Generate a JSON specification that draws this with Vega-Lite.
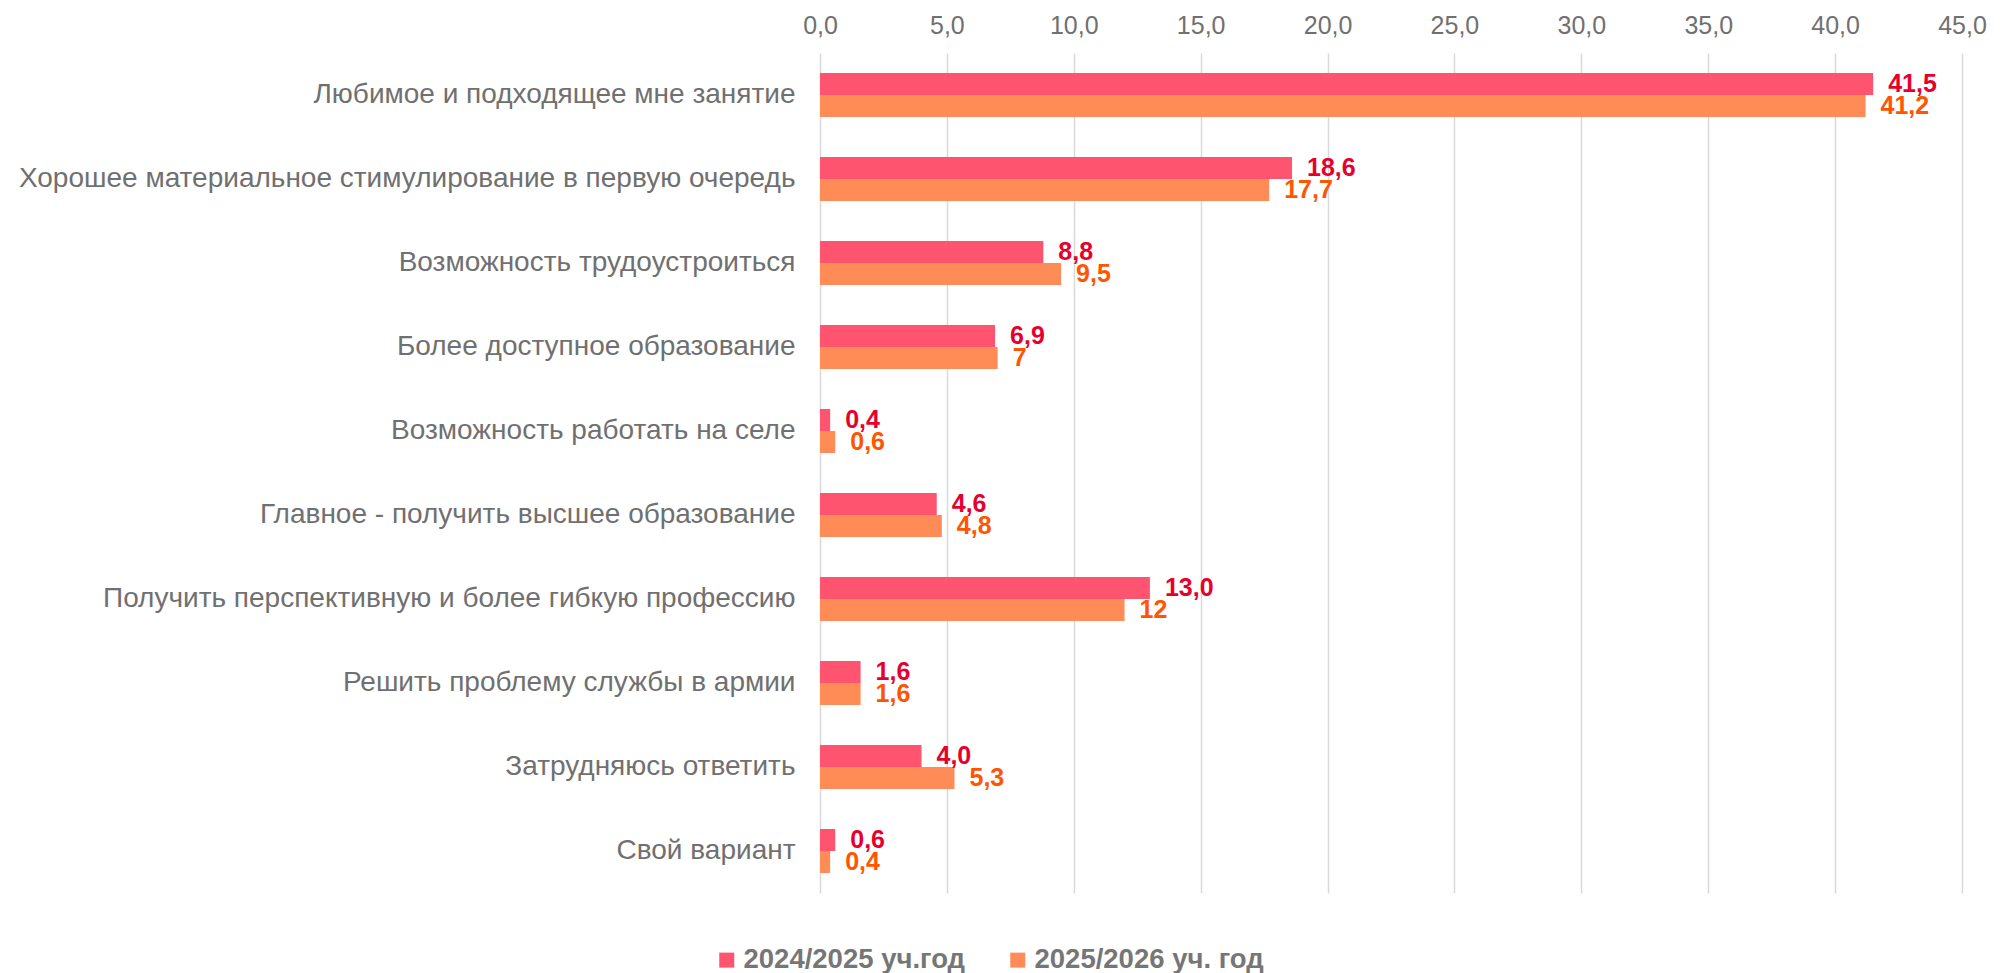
{
  "$schema": "https://vega.github.io/schema/vega-lite/v6.json",
  "width": 1142,
  "height": 840,
  "autosize": "none",
  "padding": {"left": 820, "top": 53, "right": 49, "bottom": 80},
  "background": "white",
  "data": {
    "values": [
      {"cat": "Любимое и подходящее мне занятие", "series": "2024/2025 уч.год", "value": 41.5, "label": "41,5"},
      {"cat": "Любимое и подходящее мне занятие", "series": "2025/2026 уч. год", "value": 41.2, "label": "41,2"},
      {"cat": "Хорошее материальное стимулирование в первую очередь", "series": "2024/2025 уч.год", "value": 18.6, "label": "18,6"},
      {"cat": "Хорошее материальное стимулирование в первую очередь", "series": "2025/2026 уч. год", "value": 17.7, "label": "17,7"},
      {"cat": "Возможность трудоустроиться", "series": "2024/2025 уч.год", "value": 8.8, "label": "8,8"},
      {"cat": "Возможность трудоустроиться", "series": "2025/2026 уч. год", "value": 9.5, "label": "9,5"},
      {"cat": "Более доступное образование", "series": "2024/2025 уч.год", "value": 6.9, "label": "6,9"},
      {"cat": "Более доступное образование", "series": "2025/2026 уч. год", "value": 7, "label": "7"},
      {"cat": "Возможность работать на селе", "series": "2024/2025 уч.год", "value": 0.4, "label": "0,4"},
      {"cat": "Возможность работать на селе", "series": "2025/2026 уч. год", "value": 0.6, "label": "0,6"},
      {"cat": "Главное - получить высшее образование", "series": "2024/2025 уч.год", "value": 4.6, "label": "4,6"},
      {"cat": "Главное - получить высшее образование", "series": "2025/2026 уч. год", "value": 4.8, "label": "4,8"},
      {"cat": "Получить перспективную и более гибкую профессию", "series": "2024/2025 уч.год", "value": 13.0, "label": "13,0"},
      {"cat": "Получить перспективную и более гибкую профессию", "series": "2025/2026 уч. год", "value": 12, "label": "12"},
      {"cat": "Решить проблему службы в армии", "series": "2024/2025 уч.год", "value": 1.6, "label": "1,6"},
      {"cat": "Решить проблему службы в армии", "series": "2025/2026 уч. год", "value": 1.6, "label": "1,6"},
      {"cat": "Затрудняюсь ответить", "series": "2024/2025 уч.год", "value": 4.0, "label": "4,0"},
      {"cat": "Затрудняюсь ответить", "series": "2025/2026 уч. год", "value": 5.3, "label": "5,3"},
      {"cat": "Свой вариант", "series": "2024/2025 уч.год", "value": 0.6, "label": "0,6"},
      {"cat": "Свой вариант", "series": "2025/2026 уч. год", "value": 0.4, "label": "0,4"}
    ]
  },
  "encoding": {
    "y": {
      "field": "cat", "type": "nominal", "sort": null,
      "scale": {"paddingInner": 0.476, "paddingOuter": 0.238},
      "axis": {"title": null, "domain": false, "ticks": false, "labelPadding": 25, "labelFontSize": 28, "labelColor": "#707070", "labelFont": "Liberation Sans, Arial, sans-serif", "labelLimit": 1000}
    },
    "yOffset": {"field": "series", "type": "nominal", "sort": null, "scale": {"paddingInner": 0, "paddingOuter": 0}},
    "x": {
      "field": "value", "type": "quantitative",
      "scale": {"domain": [0, 45], "nice": false, "zero": true},
      "axis": {"orient": "top", "title": null, "values": [0, 5, 10, 15, 20, 25, 30, 35, 40, 45], "grid": true, "gridColor": "#d9d9d9", "gridWidth": 1.5, "domain": false, "ticks": false, "labelFlush": false, "labelOverlap": false, "labelPadding": 15, "labelFontSize": 25, "labelColor": "#707070", "labelFont": "Liberation Sans, Arial, sans-serif", "labelExpr": "replace(format(datum.value, '.1f'), '.', ',')"}
    }
  },
  "layer": [
    {
      "mark": {"type": "bar"},
      "encoding": {
        "color": {
          "field": "series", "type": "nominal", "sort": null,
          "scale": {"range": ["#FF5470", "#FF8B56"]},
          "legend": {"orient": "none", "legendX": -107, "legendY": 893, "direction": "horizontal", "title": null, "symbolType": "square", "symbolSize": 225, "symbolStrokeWidth": 0, "labelFontSize": 27.5, "labelFontWeight": "bold", "labelColor": "#767676", "labelFont": "Liberation Sans, Arial, sans-serif", "columnPadding": 38, "labelOffset": 3, "labelLimit": 500}
        }
      }
    },
    {
      "mark": {"type": "text", "align": "left", "baseline": "middle", "dx": 15, "fontWeight": "bold", "fontSize": 25, "font": "Liberation Sans, Arial, sans-serif"},
      "encoding": {
        "text": {"field": "label"},
        "color": {"field": "series", "type": "nominal", "sort": null, "scale": {"range": ["#E8002D", "#FF5500"]}, "legend": null}
      }
    }
  ],
  "resolve": {"scale": {"color": "independent"}},
  "config": {"view": {"stroke": null}}
}
